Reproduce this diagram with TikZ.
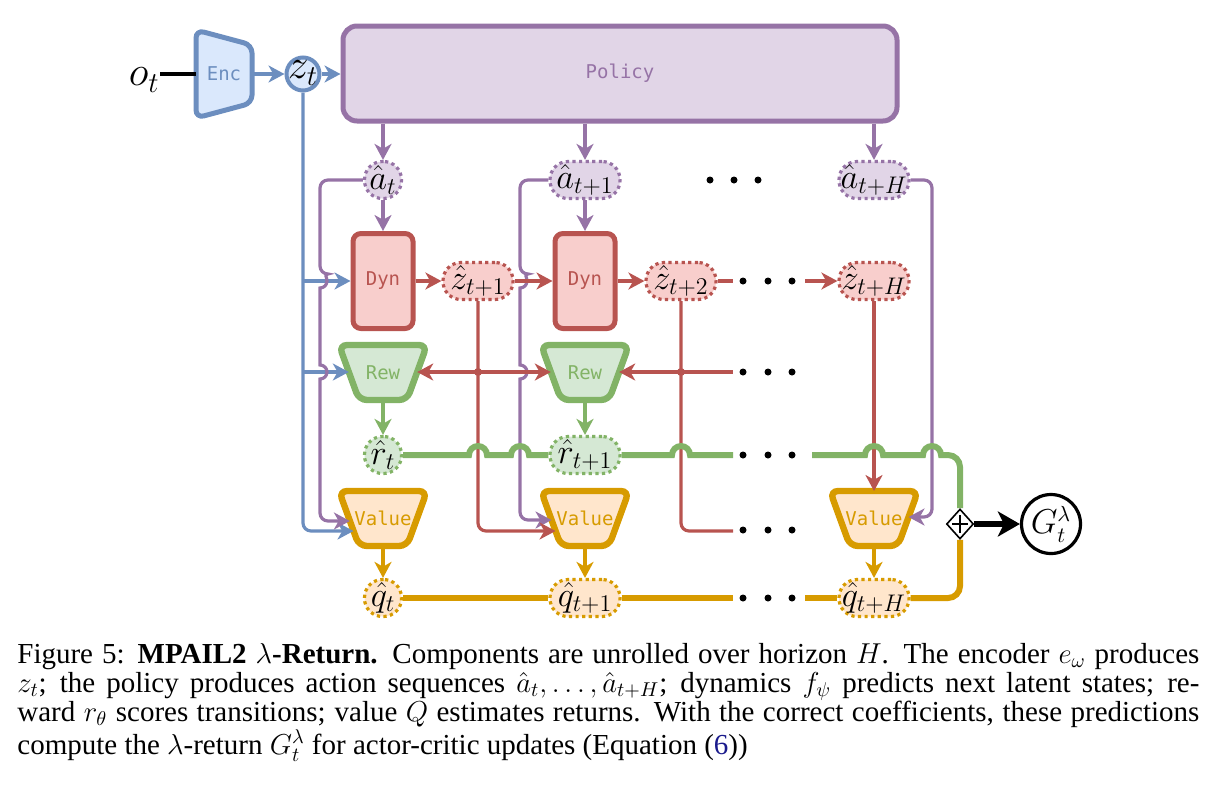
\documentclass[tikz,border=0pt]{standalone}
\usepackage{fontspec}
\setmainfont{Liberation Serif}
\newfontfamily\labfont{DejaVu Sans Mono}
\usetikzlibrary{arrows.meta,shapes.geometric}
\definecolor{blueF}{HTML}{DAE8FC}\definecolor{blueD}{HTML}{6C8EBF}
\definecolor{purF}{HTML}{E1D5E7}\definecolor{purD}{HTML}{9673A6}
\definecolor{redF}{HTML}{F8CECC}\definecolor{redD}{HTML}{B85450}
\definecolor{grnF}{HTML}{D5E8D4}\definecolor{grnD}{HTML}{82B366}
\definecolor{orgF}{HTML}{FFE6CC}\definecolor{orgD}{HTML}{D79B00}
\definecolor{linkblue}{HTML}{1A1A8C}
\newcommand\mlab{\fontsize{17}{20}\selectfont}
\newcommand\olab{\fontsize{20.5}{24}\selectfont}
\newcommand\glab{\fontsize{16}{19}\selectfont}
\newcommand\blab{\labfont\fontsize{9.5}{11}\selectfont}
\newcommand\mytrap[5]{\draw[line width=3.2pt, draw=#4, fill=#5, rounded corners=4pt] ({#1-44},#2) -- ({#1+44},#2) -- ({#1+24},#3) -- ({#1-24},#3) -- cycle;}
\tikzset{
  arr/.style={-{Stealth[length=8pt,width=8.5pt,inset=2.4pt]}},
  con/.style={line width=1.6pt},
  bcon/.style={con,draw=blueD}, pcon/.style={con,draw=purD},
  rcon/.style={con,draw=redD}, gcon/.style={con,draw=grnD}, ocon/.style={con,draw=orgD},
  gbus/.style={line width=3pt,draw=grnD}, obus/.style={line width=3pt,draw=orgD},
  varn/.style={rounded corners=9pt, minimum height=18.5pt, minimum width=35pt, inner sep=0pt, line width=1.6pt, dash pattern=on 1.6pt off 1.7pt, font=\mlab},
  varc/.style={varn, minimum width=18.5pt},
  boxlab/.style={font=\blab, inner sep=0pt},
  procbox/.style={line width=2.5pt, rounded corners=4pt, minimum width=30pt, minimum height=47.5pt, font=\blab}
}
\begin{document}
\begin{tikzpicture}[x=0.5pt,y=-0.5pt]
\path[use as bounding box] (0,0) rectangle (1219,794);

% ---------- encoder, z_t, policy
\coordinate (encw) at (196,74);
\coordinate (ence) at (252,74);
\draw[line width=2.5pt, draw=blueD, fill=blueF, rounded corners=4pt] (196,30) -- (252,45) -- (252,103) -- (196,118) -- cycle;
\node[boxlab, text=blueD] (enc) at (224,74) {Enc};
\node[font=\olab, inner sep=0pt, anchor=east] (ot) at (160,80) {$o_t$};
\draw[line width=1.6pt] (ot.east |- encw) -- (encw);

\node[circle, draw=blueD, fill=blueF, line width=2pt, minimum size=16.5pt, inner sep=0pt] (zt) at (303,74) {};
\node[font=\olab, inner sep=0pt] (ztlab) at (303,73) {$z_t$};

\node[draw=purD, fill=purF, line width=2.5pt, rounded corners=7pt, minimum width=277pt, minimum height=47.5pt, font=\blab, text=purD] (policy) at (620,73.5) {Policy};

\draw[bcon,arr] (ence) -- (zt);
\draw[bcon,arr] (zt.east) -- (policy.west |- zt.east);

% ---------- actions
\node[varc, draw=purD, fill=purF] (at) at (383,180) {$\hat a_t$};
\node[varn, draw=purD, fill=purF] (at1) at (585,180) {$\hat a_{t+1}$};
\node[varn, draw=purD, fill=purF] (atH) at (874,180) {$\hat a_{t+H}$};
\foreach \n in {at,at1,atH} \draw[pcon,arr] (policy.south -| \n) -- (\n.north);
\foreach \xx in {710,734,758} \fill (\xx,180) circle[radius=1.75pt];

% ---------- dynamics
\node[procbox, draw=redD, fill=redF, text=redD] (dyn1) at (383,281) {Dyn};
\node[procbox, draw=redD, fill=redF, text=redD] (dyn2) at (585,281) {Dyn};
\node[varn, draw=redD, fill=redF] (zt1) at (478,281) {$\hat z_{t+1}$};
\node[varn, draw=redD, fill=redF] (zt2) at (681,281) {$\hat z_{t+2}$};
\node[varn, draw=redD, fill=redF] (ztH) at (874,281) {$\hat z_{t+H}$};

% ---------- reward
\mytrap{383}{345}{400}{grnD}{grnF}
\mytrap{585}{345}{400}{grnD}{grnF}
\node[boxlab, text=grnD] (rew1) at (383,372.5) {Rew};
\node[boxlab, text=grnD] (rew2) at (585,372.5) {Rew};
\coordinate (rew1-L) at (348.8,372); \coordinate (rew1-R) at (417.2,372); \coordinate (rew1-B) at (383,400);
\coordinate (rew2-L) at (550.8,372); \coordinate (rew2-R) at (619.2,372); \coordinate (rew2-B) at (585,400);
\node[varc, draw=grnD, fill=grnF] (rt) at (383,455) {$\hat r_t$};
\node[varn, draw=grnD, fill=grnF] (rt1) at (585,455) {$\hat r_{t+1}$};

% ---------- value
\mytrap{383}{491}{546}{orgD}{orgF}
\mytrap{585}{491}{546}{orgD}{orgF}
\mytrap{874}{491}{546}{orgD}{orgF}
\node[boxlab, text=orgD] (val1) at (383,518.5) {Value};
\node[boxlab, text=orgD] (val2) at (585,518.5) {Value};
\node[boxlab, text=orgD] (val3) at (874,518.5) {Value};
\coordinate (val1-P) at (349.9,521); \coordinate (val1-Z) at (353.5,531); \coordinate (val1-B) at (383,546);
\coordinate (val2-P) at (551.5,520); \coordinate (val2-R) at (555.5,531); \coordinate (val2-B) at (585,546);
\coordinate (val3-T) at (874,491); \coordinate (val3-P) at (908.5,517); \coordinate (val3-B) at (874,546);
\node[varc, draw=orgD, fill=orgF] (qt) at (383,598) {$\hat q_t$};
\node[varn, draw=orgD, fill=orgF] (qt1) at (585,598) {$\hat q_{t+1}$};
\node[varn, draw=orgD, fill=orgF] (qtH) at (874,598) {$\hat q_{t+H}$};

% ---------- sum and return
\node[diamond, draw, fill=white, line width=0.8pt, minimum width=13.5pt, minimum height=15pt, inner sep=0pt] (sum) at (960,524) {};
\draw[line width=0.8pt] (sum.center) ++(-8,0) -- ++(16,0);
\draw[line width=0.8pt] (sum.center) ++(0,-9) -- ++(0,18);
\node[circle, draw, line width=1.6pt, minimum size=29.5pt, inner sep=0pt, font=\glab] (G) at (1051,524) {$G_t^\lambda$};
\draw[line width=2.6pt, -{Stealth[length=11pt,width=12.5pt,inset=3pt]}] (sum.east) -- (G.west);

% ---------- blue connectors
\draw[bcon,arr,rounded corners=4pt] (zt.south) -- (303,531) -- (val1-Z);
\draw[bcon,arr] (303,281) -- (dyn1.west);
\draw[bcon,arr] (303,372) -- (rew1-L);

% ---------- purple connectors
\draw[pcon,arr] (at.south) -- (dyn1.north);
\draw[pcon,arr] (at1.south) -- (dyn2.north);
\draw[pcon,arr,rounded corners=4pt] (at.west) -- (320,180) -- (320,274) [sharp corners] arc[start angle=90,end angle=-90,radius=3.5pt] -- (320,365) arc[start angle=90,end angle=-90,radius=3.5pt] [rounded corners=4pt] -- (320,521) -- (val1-P);
\draw[pcon,arr,rounded corners=4pt] (at1.west) -- (520,180) -- (520,274) [sharp corners] arc[start angle=90,end angle=-90,radius=3.5pt] -- (520,365) arc[start angle=90,end angle=-90,radius=3.5pt] [rounded corners=4pt] -- (520,520) -- (val2-P);
\draw[pcon,arr,rounded corners=4pt] (atH.east) -- (932,180) -- (932,517) -- (val3-P);

% ---------- red connectors
\draw[rcon,arr] (dyn1.east) -- (zt1.west);
\draw[rcon,arr] (zt1.east) -- (dyn2.west);
\draw[rcon,arr] (dyn2.east) -- (zt2.west);
\draw[rcon] (zt2.east) -- (733,281);
\draw[rcon,arr] (805,281) -- (ztH.west);
\draw[rcon,arr,rounded corners=4pt] (zt1.south) -- (478,531) -- (val2-R);
\draw[rcon,arr] (478,372) -- (rew1-R);
\draw[rcon,arr] (478,372) -- (rew2-L);
\fill[redD] (478,372) circle[radius=2pt];
\draw[rcon,rounded corners=4pt] (zt2.south) -- (681,531) -- (733,531);
\draw[rcon,arr] (681,372) -- (rew2-R);
\draw[rcon] (681,372) -- (733,372);
\fill[redD] (681,372) circle[radius=2pt];
\draw[rcon,arr] (ztH.south) -- (val3-T);

% ---------- green connectors
\draw[gcon,arr] (rew1-B) -- (rt.north);
\draw[gcon,arr] (rew2-B) -- (rt1.north);
\draw[gbus] (rt.east) -- (469,455) arc[start angle=180,end angle=0,radius=4.5pt] -- (511,455) arc[start angle=180,end angle=0,radius=4.5pt] -- (rt1.west);
\draw[gbus] (rt1.east) -- (672,455) arc[start angle=180,end angle=0,radius=4.5pt] -- (733,455);
\draw[gbus] (812,455) -- (865,455) arc[start angle=180,end angle=0,radius=4.5pt] -- (923,455) arc[start angle=180,end angle=0,radius=4.5pt] [rounded corners=6pt] -- (960,455) -- (sum.north);

% ---------- orange connectors
\draw[ocon,arr] (val1-B) -- (qt.north);
\draw[ocon,arr] (val2-B) -- (qt1.north);
\draw[ocon,arr] (val3-B) -- (qtH.north);
\draw[obus] (qt.east) -- (qt1.west);
\draw[obus] (qt1.east) -- (733,598);
\draw[obus] (805,598) -- (qtH.west);
\draw[obus,rounded corners=6pt] (qtH.east) -- (960,598) -- (sum.south);

% ---------- ellipses
\foreach \yy in {281,372,455,530,598}
  \foreach \xx in {743,768,792} \fill (\xx,\yy) circle[radius=1.75pt];

% ---------- caption
\node[anchor=north west, text width=591pt, inner sep=0pt, align=justify, font=\fontsize{14.5}{14.5}\selectfont] (cap) at (17,643)
{Figure 5: \textbf{MPAIL2 $\lambda$-Return.} Components are unrolled over horizon $H$. The encoder $e_\omega$ produces\linebreak
$z_t$; the policy produces action sequences $\hat a_t,\ldots,\hat a_{t+H}$; dynamics $f_\psi$ predicts next latent states; re-\linebreak
ward $r_\theta$ scores transitions; value $Q$ estimates returns. With the correct coefficients, these predictions\linebreak
compute the $\lambda$-return $G_t^\lambda$ for actor-critic updates (Equation ({\color{linkblue}6}))};
\end{tikzpicture}
\end{document}
